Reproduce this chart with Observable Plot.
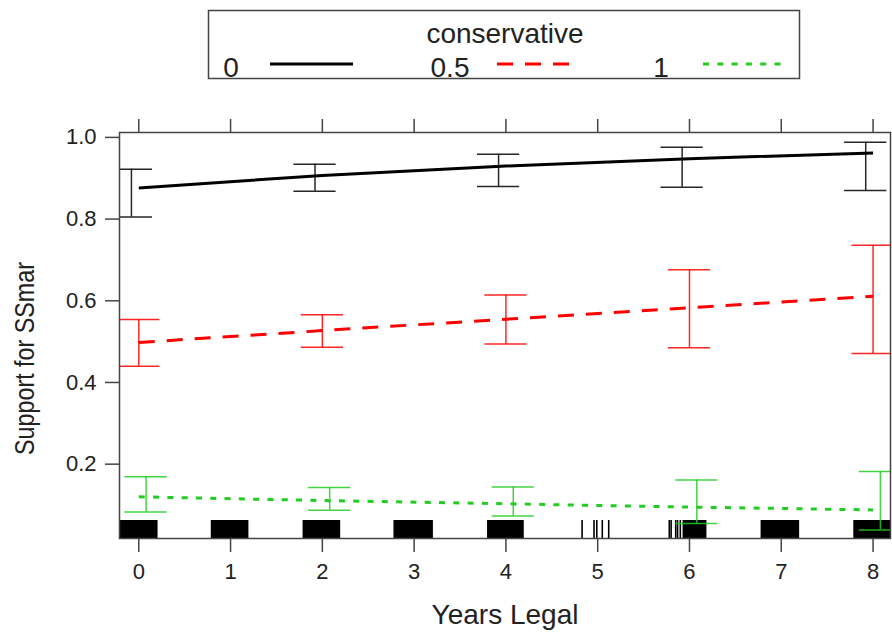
<!DOCTYPE html>
<html>
<head>
<meta charset="utf-8">
<script src="https://cdn.jsdelivr.net/npm/d3@7"></script>
<script src="https://cdn.jsdelivr.net/npm/@observablehq/plot@0.6"></script>
<style>
  body { margin: 0; background: #fff; }
  #wrap { position: relative; width: 892px; height: 639px; font-family: "Liberation Sans", Arial, sans-serif; }
  #wrap svg { position: absolute; left: 0; top: 0; }
</style>
</head>
<body>
<div id="wrap"></div>
<script>
// Effect of years legal on support for same-sex marriage, by conservatism
const years = [0, 2, 4, 6, 8];
const levels = ["0", "0.5", "1"];
const levelColors = ["#000000", "#ff0000", "#22cc22"];

// fitted probabilities and 95% limits for conservative = 0
const fit0   = [0.876, 0.907, 0.930, 0.948, 0.962];
const lower0 = [0.805, 0.868, 0.880, 0.878, 0.870];
const upper0 = [0.922, 0.934, 0.959, 0.976, 0.988];
// conservative = 0.5
const fit05   = [0.498, 0.527, 0.555, 0.583, 0.611];
const lower05 = [0.440, 0.486, 0.494, 0.485, 0.471];
const upper05 = [0.554, 0.566, 0.614, 0.676, 0.736];
// conservative = 1
const fit1   = [0.120, 0.111, 0.103, 0.095, 0.088];
const lower1 = [0.083, 0.087, 0.073, 0.055, 0.039];
const upper1 = [0.169, 0.143, 0.144, 0.161, 0.182];

// observed years legal (rug): dense clusters as spans, isolated cases as single lines
const rugSpans = [[-0.21, 0.21], [0.79, 1.20], [1.79, 2.20], [2.78, 3.21], [3.80, 4.20], [5.93, 6.19], [6.78, 7.20], [7.79, 8.20]];
const rugLines = [4.83, 4.96, 4.99, 5.05, 5.12, 5.78, 5.80, 5.85, 5.87, 5.90];

const xTicks = [0, 1, 2, 3, 4, 5, 6, 7, 8];
const yTicks = [0.2, 0.4, 0.6, 0.8, 1.0];
const xTitle = "Years Legal";
const yTitle = "Support for SSmar";

const fits = [fit0, fit05, fit1];
const lowers = [lower0, lower05, lower1];
const uppers = [upper0, upper05, upper1];
const rows = levels.flatMap((lv, i) => years.map((yr, j) => ({
  level: lv, years: yr, fit: fits[i][j], lower: lowers[i][j], upper: uppers[i][j]
})));

// confidence bars are nudged sideways per level so they do not overlap
const nudge = {"0": -0.08, "0.5": 0, "1": 0.08};
const capHalf = 0.23;
const bx = d => d.years + nudge[d.level];

const dash = {"0": null, "0.5": "16,12", "1": "6,8.3"};
const frameH = 639 - 132 - 101;

const font = "Liberation Sans, Arial, sans-serif";

const chart = Plot.plot({
  width: 892,
  height: 639,
  marginTop: 132,
  marginRight: 2,
  marginBottom: 101,
  marginLeft: 119,
  style: {fontFamily: font, fontSize: "22px", background: "transparent", color: "#222"},
  x: {domain: [-0.21, 8.19]},
  y: {domain: [0.018, 1.012]},
  color: {domain: levels, range: levelColors},
  marks: [
    // rug of observed values
    Plot.rect(rugSpans, {x1: d => d[0], x2: d => d[1], insetTop: frameH - 18, fill: "#000", clip: true}),
    Plot.ruleX(rugLines, {x: d => d, insetTop: frameH - 18, stroke: "#000", strokeWidth: 1.6}),
    // fitted lines
    ...levels.map(lv => Plot.line(rows.filter(r => r.level === lv), {
      x: "years", y: "fit", stroke: "level", strokeWidth: 3,
      strokeDasharray: dash[lv], strokeLinecap: "butt"
    })),
    // confidence intervals
    Plot.ruleX(rows, {x: bx, y1: "lower", y2: "upper", stroke: "level", strokeWidth: 1.5, strokeOpacity: 0.85, clip: true}),
    Plot.ruleY(rows, {y: "lower", x1: d => bx(d) - capHalf, x2: d => bx(d) + capHalf, stroke: "level", strokeWidth: 1.5, strokeOpacity: 0.85, clip: true}),
    Plot.ruleY(rows, {y: "upper", x1: d => bx(d) - capHalf, x2: d => bx(d) + capHalf, stroke: "level", strokeWidth: 1.5, strokeOpacity: 0.85, clip: true}),
    Plot.frame({stroke: "#444", strokeWidth: 1.5}),
    // axes
    Plot.axisX(xTicks, {anchor: "bottom", tickSize: 14, tickPadding: 11, stroke: "#444", strokeWidth: 1.5, fill: "#222", label: null}),
    Plot.axisX(xTicks, {anchor: "top", tickSize: 14, tickFormat: () => "", stroke: "#444", strokeWidth: 1.5, label: null}),
    Plot.axisY(yTicks, {anchor: "left", tickSize: 14, tickPadding: 9, tickFormat: d3.format(".1f"), stroke: "#444", strokeWidth: 1.5, fill: "#222", label: null}),
    Plot.text([xTitle], {frameAnchor: "bottom", dy: 85, fontSize: 28, fill: "#222"}),
    Plot.text([yTitle], {frameAnchor: "left", textAnchor: "middle", dx: -94, dy: 23, rotate: -90, fontSize: 27, fill: "#222"})
  ]
});

// the vertical title is set a little more compact than its glyph size
d3.select(chart).selectAll("text")
  .filter(function() { return this.textContent === yTitle; })
  .attr("textLength", 193)
  .attr("lengthAdjust", "spacingAndGlyphs");

const wrap = document.getElementById("wrap");
wrap.appendChild(chart);

// key above the panel: title plus one entry per level
const key = d3.select(wrap).append("svg")
  .attr("width", 892).attr("height", 90)
  .style("font-family", font);
key.append("rect")
  .attr("x", 208.5).attr("y", 10.5).attr("width", 591).attr("height", 68)
  .attr("fill", "#fff").attr("stroke", "#444").attr("stroke-width", 1.5);
key.append("text")
  .attr("x", 505).attr("y", 43).attr("text-anchor", "middle")
  .attr("font-size", 28).attr("fill", "#222").text("conservative");
const keyText = [231, 450, 661];
const keyLine = [[270, 353], [497, 573], [703, 781]];
levels.forEach((lv, i) => {
  key.append("text")
    .attr("x", keyText[i]).attr("y", 77).attr("text-anchor", "middle")
    .attr("font-size", 28).attr("fill", "#222").text(lv);
  key.append("line")
    .attr("x1", keyLine[i][0]).attr("x2", keyLine[i][1])
    .attr("y1", 64).attr("y2", 64)
    .attr("stroke", levelColors[i]).attr("stroke-width", 3)
    .attr("stroke-dasharray", dash[lv]);
});
</script>
</body>
</html>
